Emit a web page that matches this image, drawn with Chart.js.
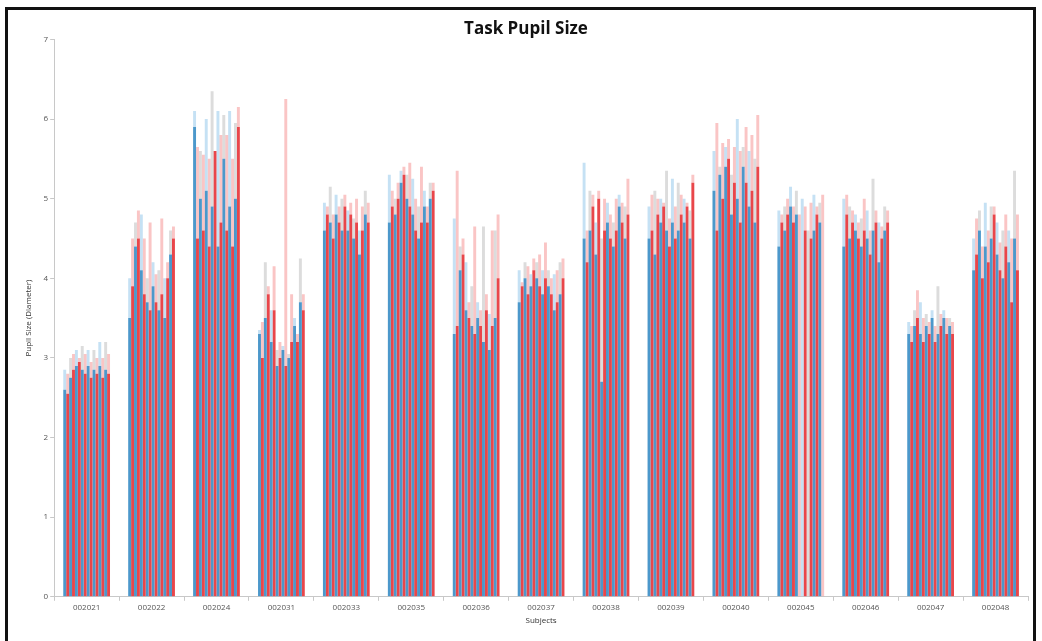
<!DOCTYPE html>
<html lang="en">
<head>
    <meta charset="UTF-8">
    <title>Task Pupil Size</title>
    <script src="https://cdn.jsdelivr.net/npm/chart.js"></script>
    <style>
        body { margin: 0; background: #fff; }
        .frame { position: absolute; left: 5px; top: 7px; width: 1031px; height: 640px;
                 border: 3px solid #111; border-bottom: none; box-sizing: border-box; }
        .chart-box { position: absolute; left: 8px; top: 10px; width: 1026px; height: 631px; }
    </style>
</head>
<body>
    <div class="frame"></div>
    <div class="chart-box">
        <canvas id="pupilChart"></canvas>
    </div>
    <script>
        // Subjects (x categories)
        const subjects = ['002021', '002022', '002024', '002031', '002033', '002035', '002036', '002037',
            '002038', '002039', '002040', '002045', '002046', '002047', '002048'];

        // Per subject: solid part (mean) and light top (peak) for each of the 16 trials
        const base021 = [2.6, 2.55, 2.75, 2.85, 2.9, 2.95, 2.85, 2.8, 2.9, 2.75, 2.85, 2.8, 2.9, 2.75, 2.85, 2.8];
        const peak021 = [2.85, 2.8, 3.0, 3.05, 3.1, 3.0, 3.15, 3.05, 3.1, 2.95, 3.1, 3.0, 3.2, 3.0, 3.2, 3.05];
        const base022 = [3.5, 3.9, 4.4, 4.5, 4.1, 3.8, 3.7, 3.6, 3.9, 3.7, 3.6, 3.8, 3.5, 4.0, 4.3, 4.5];
        const peak022 = [4.0, 4.5, 4.7, 4.85, 4.8, 4.5, 4.0, 4.7, 4.2, 4.05, 4.1, 4.75, 4.0, 4.2, 4.6, 4.65];
        const base024 = [5.9, 4.5, 5.0, 4.6, 5.1, 4.4, 4.9, 5.6, 4.4, 4.7, 5.5, 4.6, 4.9, 4.4, 5.0, 5.9];
        const peak024 = [6.1, 5.65, 5.6, 5.55, 6.0, 5.5, 6.35, 5.6, 6.1, 5.8, 6.05, 5.8, 6.1, 5.5, 5.95, 6.15];
        const base031 = [3.3, 3.0, 3.5, 3.8, 3.2, 3.6, 2.9, 3.0, 3.1, 2.9, 3.0, 3.2, 3.4, 3.2, 3.7, 3.6];
        const peak031 = [3.35, 3.45, 4.2, 3.9, 3.6, 4.15, 3.1, 3.2, 3.15, 6.25, 3.05, 3.8, 3.5, 3.3, 4.25, 3.8];
        const base033 = [4.6, 4.8, 4.7, 4.5, 4.8, 4.7, 4.6, 4.9, 4.6, 4.8, 4.5, 4.7, 4.3, 4.6, 4.8, 4.7];
        const peak033 = [4.95, 4.9, 5.15, 4.8, 5.05, 4.9, 5.0, 5.05, 4.85, 4.95, 4.75, 5.0, 4.6, 4.9, 5.1, 4.95];
        const base035 = [4.7, 4.9, 4.8, 5.0, 5.2, 5.3, 5.0, 4.9, 4.8, 4.6, 4.5, 4.7, 4.9, 4.7, 5.0, 5.1];
        const peak035 = [5.3, 5.1, 5.0, 5.2, 5.35, 5.4, 5.3, 5.45, 5.25, 5.0, 4.9, 5.4, 5.1, 4.9, 5.2, 5.2];
        const base036 = [3.3, 3.4, 4.1, 4.3, 3.6, 3.5, 3.4, 3.3, 3.5, 3.4, 3.2, 3.6, 3.1, 3.4, 3.5, 4.0];
        const peak036 = [4.75, 5.35, 4.4, 4.5, 4.2, 3.7, 3.9, 4.65, 3.7, 3.6, 4.65, 3.8, 3.55, 4.6, 4.6, 4.8];
        const base037 = [3.7, 3.9, 4.0, 3.8, 3.9, 4.1, 4.0, 3.9, 3.8, 4.0, 3.9, 3.8, 3.6, 3.7, 3.8, 4.0];
        const peak037 = [4.1, 3.95, 4.2, 4.15, 4.05, 4.25, 4.2, 4.3, 4.1, 4.45, 4.1, 4.0, 4.05, 4.1, 4.2, 4.25];
        const base038 = [4.5, 4.2, 4.6, 4.9, 4.3, 5.0, 2.7, 4.6, 4.7, 4.5, 4.4, 4.6, 4.9, 4.7, 4.5, 4.8];
        const peak038 = [5.45, 4.6, 5.1, 5.05, 4.7, 5.1, 4.5, 5.0, 4.95, 4.8, 4.7, 5.0, 5.05, 4.95, 4.9, 5.25];
        const base039 = [4.5, 4.6, 4.3, 4.8, 4.7, 4.9, 4.6, 4.4, 4.7, 4.5, 4.6, 4.8, 4.7, 4.9, 4.5, 5.2];
        const peak039 = [4.9, 5.05, 5.1, 5.0, 5.0, 4.95, 5.35, 4.75, 5.25, 4.9, 5.2, 5.05, 5.0, 4.95, 4.85, 5.3];
        const base040 = [5.1, 4.6, 5.3, 5.0, 5.4, 5.5, 4.8, 5.2, 5.0, 4.7, 5.4, 5.2, 4.9, 5.1, 4.7, 5.4];
        const peak040 = [5.6, 5.95, 5.4, 5.7, 5.65, 5.75, 5.3, 5.65, 6.0, 5.6, 5.65, 5.9, 5.6, 5.8, 5.5, 6.05];
        const base045 = [4.4, 4.7, 4.6, 4.8, 4.9, 4.7, 4.8, 0, 0, 4.6, 0, 4.5, 4.6, 4.8, 4.7, 0];
        const peak045 = [4.85, 4.8, 4.9, 5.0, 5.15, 4.9, 5.1, 4.8, 5.0, 4.9, 4.6, 4.95, 5.05, 4.9, 4.95, 5.05];
        const base046 = [4.4, 4.8, 4.5, 4.7, 4.6, 4.5, 4.4, 4.6, 4.5, 4.3, 4.6, 4.7, 4.2, 4.5, 4.6, 4.7];
        const peak046 = [5.0, 5.05, 4.9, 4.85, 4.8, 4.7, 4.75, 5.0, 4.85, 4.6, 5.25, 4.85, 4.7, 4.65, 4.9, 4.85];
        const base047 = [3.3, 3.2, 3.4, 3.5, 3.3, 3.2, 3.4, 3.3, 3.5, 3.2, 3.3, 3.4, 3.5, 3.3, 3.4, 3.3];
        const peak047 = [3.45, 3.4, 3.6, 3.85, 3.7, 3.5, 3.55, 3.45, 3.6, 3.4, 3.9, 3.55, 3.6, 3.5, 3.5, 3.45];
        const base048 = [4.1, 4.3, 4.6, 4.0, 4.4, 4.2, 4.5, 4.8, 4.3, 4.1, 4.0, 4.4, 4.2, 3.7, 4.5, 4.1];
        const peak048 = [4.5, 4.75, 4.85, 4.4, 4.95, 4.6, 4.9, 4.9, 4.7, 4.45, 4.6, 4.8, 4.6, 4.5, 5.35, 4.8];

        const baseValues = [base021, base022, base024, base031, base033, base035, base036, base037,
            base038, base039, base040, base045, base046, base047, base048];
        const peakValues = [peak021, peak022, peak024, peak031, peak033, peak035, peak036, peak037,
            peak038, peak039, peak040, peak045, peak046, peak047, peak048];

        const yTicks = [0, 1, 2, 3, 4, 5, 6, 7];

        const solidColors = ['rgba(66, 146, 200, 0.95)', 'rgba(232, 60, 64, 0.95)'];
        const lightColors = ['rgba(150, 200, 235, 0.55)', 'rgba(245, 140, 140, 0.5)', 'rgba(185, 185, 185, 0.5)'];

        // build one stack per trial: solid part + light part up to the peak
        const datasets = [];
        const trialCount = base021.length;
        for (let t = 0; t < trialCount; t++) {
            const light = t % 2 === 1 ? lightColors[1] : (t % 4 === 0 ? lightColors[0] : lightColors[2]);
            datasets.push({
                label: 'Trial ' + (t + 1),
                data: baseValues.map(s => s[t]),
                backgroundColor: solidColors[t % 2],
                stack: 't' + t,
                barPercentage: 1.0,
                categoryPercentage: 0.72
            });
            datasets.push({
                label: 'Trial ' + (t + 1) + ' peak',
                data: peakValues.map((s, i) => s[t] - baseValues[i][t]),
                backgroundColor: light,
                stack: 't' + t,
                barPercentage: 1.0,
                categoryPercentage: 0.72
            });
        }

        const ctx = document.getElementById('pupilChart').getContext('2d');
        new Chart(ctx, {
            type: 'bar',
            data: {
                labels: subjects,
                datasets: datasets
            },
            options: {
                responsive: true,
                maintainAspectRatio: false,
                animation: false,
                layout: { padding: { left: 16, right: 6, top: 0, bottom: 15 } },
                plugins: {
                    legend: { display: false },
                    tooltip: { enabled: false },
                    title: {
                        display: true,
                        text: 'Task Pupil Size',
                        color: '#111',
                        font: { family: 'Open Sans', size: 17, weight: 'bold' },
                        padding: { top: 9, bottom: 0 }
                    }
                },
                scales: {
                    x: {
                        stacked: true,
                        grid: { drawOnChartArea: false, color: '#c8c8c8', tickLength: 4 },
                        border: { color: '#c8c8c8', width: 1 },
                        ticks: { color: '#555', font: { family: 'Open Sans', size: 8 }, padding: 2 },
                        title: {
                            display: true, text: 'Subjects', color: '#333',
                            font: { family: 'Open Sans', size: 8 }, padding: { top: 2, bottom: 0 }
                        }
                    },
                    y: {
                        stacked: true,
                        min: 0,
                        max: 7,
                        afterBuildTicks: axis => { axis.ticks = yTicks.map(v => ({ value: v })); },
                        grid: { drawOnChartArea: false, color: '#c8c8c8', tickLength: 4 },
                        border: { color: '#c8c8c8', width: 1 },
                        ticks: { color: '#555', font: { family: 'Open Sans', size: 8 }, padding: 2 },
                        title: {
                            display: true, text: 'Pupil Size (Diameter)', color: '#333',
                            font: { family: 'Open Sans', size: 8 }, padding: { top: 0, bottom: 8 }
                        }
                    }
                }
            }
        });
    </script>
</body>
</html>
